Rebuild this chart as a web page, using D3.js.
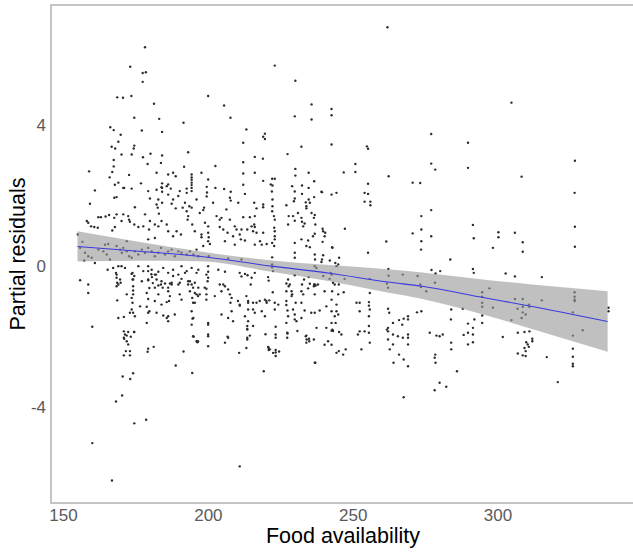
<!DOCTYPE html>
<html>
<head>
<meta charset="utf-8">
<script src="https://cdn.jsdelivr.net/npm/d3@7"></script>
<style>
  html, body { margin: 0; padding: 0; background: #fff; }
  svg { display: block; }
</style>
</head>
<body>
<svg id="chart" width="633" height="554"></svg>
<script>
// ---------------- DATA ----------------
const xTicks = [150, 200, 250, 300];
const yTicks = [-4, 0, 4];
const xLabel = "Food availability";
const yLabel = "Partial residuals";

// smooth fit and its confidence band
const fitX     = [155, 175, 197, 222, 242, 262, 274, 295, 311, 338];
const fitY     = [0.57, 0.44, 0.29, 0.01, -0.19, -0.44, -0.56, -0.88, -1.12, -1.56];
const bandLow  = [0.14, 0.16, 0.15, -0.15, -0.42, -0.74, -0.92, -1.36, -1.75, -2.42];
const bandHigh = [1.00, 0.72, 0.43, 0.17, 0.04, -0.08, -0.17, -0.37, -0.50, -0.70];

// observations [food availability, partial residual], food < 200
const obsLow = [
[178.3,6.22],[173.2,5.67],[177.5,5.49],[178.6,5.51],[177.5,5.24],[168.7,4.8],[170.7,4.79],[173.6,4.84],[181.4,4.62],[174.6,4.22],
[183.2,4.19],[191.6,4.08],[166.3,3.95],[167.5,3.87],[169.9,3.74],[177.2,3.86],[184.2,3.82],[169.1,3.54],[174.6,3.43],[174.4,3.35],
[166.8,3.4],[168,3.35],[170.2,3.18],[173.7,3.18],[177.6,3.1],[180.2,3.2],[184.2,3.15],[193.2,3.24],[183.8,2.94],[179.2,2.91],
[167.5,3.02],[167.5,2.84],[167,2.68],[159,2.7],[172.8,2.6],[182.3,2.66],[188,2.66],[188.9,2.56],[191.8,2.83],[194.4,2.61],
[194.4,2.53],[194.4,2.46],[194.4,2.38],[194.4,2.31],[194.4,2.23],[166.1,2.53],[169.1,2.38],[167.9,2.32],[170.8,2.23],[176.9,2.36],
[184.2,2.36],[186.3,2.33],[184.2,2.23],[185.8,2.28],[186.3,2.61],[188,1.9],[189.8,2.0],[190.3,2.14],[199.7,2.1],
[161,2.16],[159.3,1.78],[167.7,1.95],[168.5,1.97],[171.1,2.23],[173.7,2.21],[179.4,2.14],[182.3,2.18],[184,2.25],[184.2,2.12],
[186.3,2.04],[187.2,2.21],[192.7,2.21],[194.4,2.14],[180,1.93],[182.9,1.9],[182.3,1.76],[182.7,1.67],[183.1,1.5],[184.2,1.81],
[187.5,1.78],[188.9,1.65],[174.8,1.68],[170.8,1.48],[172.5,1.43],[172.8,1.33],[173.1,1.27],[174.6,1.19],[176,1.12],[177.7,1.14],
[158.2,1.29],[158.7,1.24],[159.7,1.14],[160.8,1.12],[162,1.1],[162.2,1.4],[163.1,1.4],[164.7,1.42],[165.9,1.46],[167.7,1.38],
[168.5,1.48],[170.2,1.29],[167.9,1.12],[167,1.02],[178.3,1.48],[180,1.29],[179.7,1.05],[181.7,1.19],[182.9,1.14],[184,1.29],
[185.8,1.19],[186.3,1.0],[188,0.86],[189.2,1.0],[190.7,0.91],[192.7,1.57],[193.2,1.43],[194.6,1.19],[195.5,1.0],[193,1.33],
[192.7,2.09],[192.1,1.81],[191.3,1.67],[193.6,1.71],[194.4,1.67],[196.1,1.9],[197.2,1.52],[198.4,1.6],[199,1.24],
[155.1,0.91],[156.7,0.7],[155.9,0.53],[157.6,0.39],[158.7,0.29],[157.3,0.17],[159.9,0.25],[161,0.1],
[164.5,0.62],[165.6,0.64],[163.9,0.43],[165.1,0.34],[166.2,0.2],[162.2,0.48],
[168.5,0.58],[169.7,0.48],[170.3,0.39],[170.8,0.53],[172,0.43],[172.8,0.29],[173.7,0.25],[174.8,0.43],[176,0.34],[177.2,0.48],
[178.3,0.39],[179.4,0.53],[180.6,0.43],[181.7,0.29],[182.9,0.39],[183.8,0.53],[185.2,0.34],[186.3,0.43],[187.5,0.48],[188.6,0.29],
[189.8,0.43],[190.9,0.39],[192.7,0.34],[193.8,0.43],[195,0.34],[196.1,0.48],[196.7,0.29],[172,0.72],[179.4,0.77],[181.7,0.81],
[165.4,-0.09],[167.3,-0.04],[169.1,0.01],[168.5,-0.23],[169.7,-0.37],[169.1,-0.51],[168.5,-0.56],[170.2,0.01],[171.4,-0.04],[173.7,-0.21],
[174.6,-0.27],[174.2,-0.37],[176,0.01],[177.7,-0.13],[179.4,0.01],[180.6,-0.09],[181.7,-0.23],[182.9,-0.15],[184.6,-0.04],[186.3,-0.18],
[188,-0.09],[189.8,-0.23],[190.9,0.01],[192.7,-0.13],[194.4,-0.04],[196.1,-0.18],[177.2,-0.42],[179.4,-0.37],[184,-0.42],[187.5,-0.46],[193.2,-0.42],
[155.9,-0.39],[158.7,-0.51],[158.7,-0.75],[160.1,-1.71],[168.7,-0.96],[169.1,-1.46],[171,-1.43],[168.3,-0.18],[168.5,-0.32],[168.7,-0.46],[169.9,-0.46],
[172,-0.79],[173.7,-0.89],[174,-1.03],[173.7,-1.22],[174.2,-1.31],[174.8,-1.41],[173.1,-1.31],
[174,-0.18],[174,-0.37],[174.2,-0.56],[174.2,-0.68],[174.2,-0.79],
[176.6,-1.13],[178.9,-1.14],[179.4,-1.31],[179.8,-1.27],[178.9,-1.6],
[179.4,-0.13],[180.5,-0.22],[180.7,-0.3],[179.4,-0.39],[181,-0.47],[179.8,-0.61],[178.9,-0.75],[179.4,-0.92],
[182.1,-0.23],[182.3,-0.37],[182.9,-0.54],[184.4,-0.6],[185.2,-0.48],[186.9,-0.48],[186.3,-0.7],[185.8,-1.01],[184.6,-1.39],[186.3,-1.41],[186.3,-1.55],[186.9,-0.84],
[188,-0.27],[190.3,-0.46],[190.9,-0.35],[192.1,-0.18],[193.8,-0.42],[194.4,-0.51],[194.9,-0.6],[196.1,-0.79],[196.6,-0.84],[197.2,-0.79],
[194.9,-1.03],[194.7,-1.48],[194.9,-1.98],[196.1,-2.12],[196.6,-2.12],
[171,-1.84],[171.4,-1.93],[171,-2.02],[172,-2.12],[172.5,-2.21],[171.7,-2.4],[173.1,-2.4],[173.1,-2.52],[171,-2.52],[174.5,-1.86],
[181.7,-0.6],[182.9,-0.79],[183.8,-0.51],[186.3,-0.6],[187.5,-0.51],[181.7,-0.98],[184,-1.08],[186.6,-0.98],[189.8,-0.51],[190.3,-0.79],
[190.9,-0.94],[193.2,-0.51],[193.8,-0.7],[194.6,-0.89],[195.5,-1.03],[196.7,-0.6],[182.3,-1.31],[185.8,-1.46],[188.6,-1.36],[194.4,-1.27],
[195,-1.46],[194.4,-1.65],[172,-1.96],[173.4,-1.99],[172.5,-1.86],[174.6,-1.86],[171.1,-2.05],
[179.4,-2.33],[181.3,-2.28],[179.2,-2.42],[195.1,-1.99],[191.6,-2.41],[188.9,-2.81],[194.6,-3.02],[170.6,-3.12],[174.2,-3.03],[173.2,-3.19],
[170.4,-3.66],[168.3,-3.83],[178.7,-4.35],[174.6,-4.45],[160.1,-5.01],[166.9,-6.07]
];

// observations, 200 <= food < 250
const obsMid = [
[223.1,5.7],[230.2,5.27],[200.1,4.84],[205.6,4.57],[207.8,4.22],[235.8,4.6],[230,4.26],[235.8,4.17],[242.7,4.47],[242.7,4.29],
[213.3,3.89],[219.7,3.77],[219.1,3.68],[219.7,3.62],[212.2,3.51],[232.3,3.4],[242.7,3.46],[227.5,3.19],[216.2,3.11],[219,3.06],
[212.2,2.96],[202.6,2.85],[230.2,2.77],[230.2,2.58],[197.8,2.66],[212.2,2.64],[216.2,2.66],[234.8,2.66],[236.7,2.42],[200.1,2.47],
[219.1,2.43],[222.2,2.49],[223.1,2.49],[221.7,2.33],[222.3,2.3],[199.6,2.26],[202.6,2.23],[205.6,2.2],[212.2,2.32],[229.1,2.28],
[232.5,2.3],[234.8,2.23],[222.1,2.13],[230,2.13],[233.8,1.82],
[207.9,2.12],[212.8,2.06],[199.6,1.99],[207.6,1.95],[207.9,1.87],[198.7,1.67],[216,1.81],[216.8,1.65],[219.1,1.76],[219.1,1.68],
[222.2,1.57],[227.1,1.74],[227.9,1.43],[230,1.93],[232.5,2.06],[234.8,1.9],[236.7,1.97],[235.2,1.81],[234,1.71],[234,1.65],
[239.2,2.12],[242.7,2.04],[204.7,1.38],[212.2,1.4],[214.5,1.4],[216.2,1.43],
[204.1,1.12],[206.8,0.96],[209.9,1.05],[215.1,1.14],[216.2,1.12],[216,1.19],
[197.8,0.91],[197.8,0.83],[200.1,0.96],[200.3,0.83],[200.1,0.72],[200.7,0.64],[198.4,0.58],
[223.1,1.33],[222.9,1.1],[223.1,1.0],[223.1,0.86],[223.1,0.77],[222.2,0.67],[222.9,0.58],[220.3,0.64],[218.6,0.62],[218,0.72],
[216.2,0.62],[212.8,0.74],[211,0.91],[211.4,0.77],[209.3,0.62],[205.9,0.72],
[227.7,1.19],[230,1.3],[232.3,1.38],[232.5,1.27],[232.9,1.14],[236.9,1.46],[237.1,1.19],[236.9,0.93],[236.3,0.86],[239.8,1.0],
[240.3,0.86],[239.6,0.7],[242.9,0.55],[230,0.67],[230,0.39],[234,0.58],[235.2,0.55],[234.6,0.74],[232.3,0.77],[236.9,0.34],
[239.8,0.32],[242.1,0.17],[200.3,0.29],[207,0.23],[211.6,0.2],[222.2,0.26],[222.2,0.06],[222.2,-0.02],[230,0.25],[236.9,0.01],
[237.5,-0.04],[239.2,0.13],[242.4,-0.18],
[211.6,1.05],[213.6,1.05],[215.6,1.0],[216.8,0.96],[219.1,0.96],[222.3,1.9],[222.3,1.71],[222.8,1.43],[229.7,1.85],[231.1,1.52],
[229.4,1.43],[233.4,1.22],[235.8,1.52],[201.8,1.81],[203,1.43],[204.1,1.33],[206.4,1.62],[207.6,1.33],[209.3,1.14],[205.3,1.05],
[208.7,0.86],[210.5,1.81],[200.1,1.14],
[239.4,2.11],[244.4,2.09],[236.6,1.38],[247.3,1.07],[239.6,1.07],[240.5,0.96],[243,0.53],[245.3,0.25],[237,0.2],[239.4,0.2],
[244,0.1],[244.4,0.01],[246.9,2.67],
[196.7,-0.09],[200.1,0.01],[200.1,-0.15],[200.1,-0.32],[199.9,-0.42],[203.6,-0.09],[205.9,-0.15],[211,-0.18],[212.8,-0.21],[213.7,-0.25],
[216.2,-0.18],[215.1,-0.32],[214.8,-0.51],[220.8,-0.3],[221,-0.4],[222.5,-0.13],[227.7,-0.37],[228.3,-0.51],[227.9,-0.56],[227.1,-0.7],
[228.9,-0.7],[230,-0.25],[233.2,-0.37],[234.8,-0.3],[235.2,-0.49],[232.5,-0.51],[234.6,-0.62],[236.7,-0.51],[239.8,-0.27],[242.7,-0.23],
[243.2,-0.46],[243.8,-0.51],[242.7,-0.94],[242.9,-0.7],[245,0.06],[245.2,-0.51],[245,-0.79],
[195.5,-0.46],[195.5,-0.75],[198.9,-0.6],[199.5,-0.79],[202.4,-0.84],[204.1,-0.51],[205.3,-0.51],[205.9,-0.56],[207,-0.65],[208.2,-0.89],
[210.4,-0.98],[211,-1.08],[213.9,-1.03],[215.6,-1.03],[215.6,-1.22],[217.9,-0.98],[219.7,-0.94],[220.3,-1.03],[218.6,-1.27],[216.2,-1.31],
[212.8,-1.41],[213.9,-1.55],[223.1,-1.03],[224.3,-1.08],[223.1,-1.22],[227.1,-0.98],[227.1,-1.09],[227.5,-1.25],[227.7,-1.41],[230,-1.36],
[230.6,-1.55],[232.3,-1.46],[233.4,-1.25],[235.7,-1.31],[236.9,-0.79],[238.6,-1.25],[240.9,-1.13],[242.7,-1.27],[243.8,-1.41],[242.7,-1.6],
[240.9,-1.74],[243.2,-1.83],[232.3,-0.7],[229.1,-0.79],[230.9,-1.83],
[199.5,-0.23],[199.5,-0.63],[199.5,-0.94],[200.1,-1.6],[200.1,-1.65],[200.1,-1.93],[200.1,-1.98],[200.1,-2.26],
[204.7,-0.7],[207.6,-0.79],[207.8,-1.03],[208.2,-1.27],[208.7,-1.55],[205.9,-2.16],[207,-2.02],[204.7,-1.36],[207,-1.46],
[211.6,-0.28],[211,-1.11],[213.9,-0.98],[213.3,-0.84],[213.9,-1.22],[213.6,-1.69],[213.6,-1.77],[213.6,-2.02],[213.3,-2.31],[215.6,-1.69],
[216.8,-1.03],[220.2,-0.98],[219.7,-1.41],[221.2,-0.96],[222.4,-0.73],[223.4,-1.71],[223.4,-1.93],[223.4,-2.02],[220.8,-2.28],[221.4,-2.35],
[222.5,-2.45],[223.4,-2.44],[224.6,-2.41],[219.3,-2.97],
[227.1,-0.48],[228.9,-0.84],[229.4,-1.22],[230,-1.5],[227.1,-1.6],[227.4,-1.88],[227.4,-2.02],[230.3,-1.03],[232.3,-1.03],[233.8,-1.98],
[234.1,-2.07],[235,-2.12],[232.9,-0.79],[236.9,-0.51],[237.2,-0.54],
[196.4,-2.15],[206.8,-1.99],[213.6,-1.79],[214.5,-1.96],[213.6,-2.07],[210.8,-2.45],[219.9,-1.92],[227.5,-1.9],[221,-2.31],[221,-2.37],
[223.4,-2.37],[223.4,-2.54],[234,-1.96],[234.9,-2.05],[234,-2.16],[237.1,-2.73],[240.3,-2.22],[242.7,-2.22],[242.7,-1.82],[244.4,-2.45],
[245.2,-2.4],[211,-5.67],
[236.6,-0.56],[238,-0.51],[242,-0.35],[247.2,-0.35],[240.3,-0.7],[246.9,-0.73],[236.9,-2.73],[236.9,-1.31],[236.6,-2.07],[237.5,-1.74],
[244.4,-1.08],[244.4,-1.27],[245,-1.36],[244.1,-1.6],[245.3,-1.86],[246.1,-1.93],[243,-1.79],[241.5,-2.12],[246.7,-2.5],[247.6,-2.35]
];

// observations, food >= 250
const obsHigh = [
[262,6.79],[304.8,4.65],[277.1,3.76],[254.9,3.41],[255.3,3.34],[289.8,3.51],[250.9,2.91],[250.9,2.68],[277.1,2.92],[278.5,2.75],
[289.8,2.8],[326.7,3.0],[262.4,2.56],[270.7,2.38],[273.3,2.37],[308.3,2.55],[255.3,2.35],[254.1,2.09],[255.3,2.06],[254.1,1.84],
[256.1,1.84],[256.1,1.74],[326.6,2.09],[277.1,1.6],[273.7,1.43],[291.5,1.18],[270.7,0.94],[273.7,1.05],[277.1,0.86],[300.3,0.97],
[300.3,0.83],[306,0.96],[291.8,0.8],[326.7,1.13],[326.7,0.56],[308.7,0.69],[308.7,0.42],[298.4,0.53],[261.6,0.71],[273.6,0.48],
[255.3,0.39],[283.7,0.2],[262.3,-0.07],[267.3,-0.23],[262.4,-0.26],[277.2,-0.1],[278.6,-0.2],[280.2,-0.13],[291.5,-0.07],[302.8,-0.2],
[306,-0.28],[315.3,-0.3],[273.7,0.72],
[261.8,-0.48],[262.2,-0.6],[272.4,-0.27],[273.3,-0.51],[273.6,-0.58],[278.4,-0.46],[255.9,-0.35],[255.9,-0.75],[294.7,-0.73],[294.7,-0.86],
[294.7,-1.03],[294.7,-1.14],[297.2,-0.62],
[306,-0.92],[308.7,-0.92],[310.8,-1.08],[311,-1.14],[308.7,-1.14],[308.7,-1.3],[309.7,-1.36],[308.3,-1.46],[306.9,-1.2],[304.8,-1.52],[315.3,-0.96],
[326.6,-0.73],[326.6,-0.86],[326.6,-0.94],[326.6,-0.98],[326,-1.3],[338.3,-1.17],[338.3,-1.27],[329.4,-1.81],[326,-1.96],[326,-2.33],
[326,-2.56],[326,-2.76],[326,-2.83],[317,-2.57],[320.8,-3.28],[301.8,-2.0],
[307,-1.88],[309.3,-1.86],[311,-1.84],[312,-2.05],[312,-2.12],[309.9,-2.15],[310.4,-2.21],[309.3,-2.31],[310.8,-2.28],[309.7,-2.4],
[307,-2.47],[308.7,-2.52],[309.7,-2.54],
[294.7,-1.39],[294.7,-1.6],[291.5,-1.74],[291.5,-1.93],[291.5,-2.15],[289.8,-1.88],[289.8,-2.21],[288.3,-1.94],[286,-2.97],
[284,-1.22],[283.9,-1.5],[284,-2.16],[284,-2.35],[276.6,-1.88],[278.9,-1.96],[280,-1.98],[281.1,-1.93],
[278.5,-2.5],[278.3,-2.59],[278.6,-2.73],[278.3,-3.51],[280,-3.3],[282.3,-3.41],[267.6,-3.71],
[272.2,-1.3],[273.7,-1.27],[269.1,-1.41],[269.1,-1.5],[267.6,-1.48],[266,-1.52],[263.9,-1.6],[267.1,-1.65],
[262.2,-1.2],[262.6,-1.31],[262.2,-1.74],[261.8,-1.79],[262.2,-1.84],[263.9,-1.93],[262.2,-2.07],[263.9,-2.21],[265.6,-1.98],[267.3,-2.02],
[269.1,-1.93],[269.1,-2.02],[269.1,-2.21],[262.8,-2.35],[264.1,-2.73],[266,-2.5],[267.6,-2.64],[269.1,-2.83],
[255.6,-1.01],[255.6,-1.11],[255.9,-1.22],[255.6,-1.41],[255.6,-1.69],[255.6,-1.88],[255.9,-2.16],[254.1,-1.84],[252.4,-1.84],[253,-2.35],
[251.8,-1.93],[252.4,-1.27],[251.3,-1.03],[252.4,-1.03],
[275.4,-0.7],[288,-1.2],[289.8,-1.62],[292,-1.5],[298.4,-1.17],[291.8,-0.18]
];

// ---------------- CHART ----------------
const W = 633, H = 554;
const panel = { left: 51, right: 635, top: 5, bottom: 503 };

const x = d3.scaleLinear().domain([145.85, 347.45]).range([panel.left, panel.right]);
const y = d3.scaleLinear().domain([-6.71, 7.42]).range([panel.bottom, panel.top]);

const svg = d3.select("#chart");
const font = "'Liberation Sans', Arial, Helvetica, sans-serif";

const points = [].concat(obsLow, obsMid, obsHigh);

// points
svg.append("g")
  .selectAll("circle")
  .data(points)
  .join("circle")
  .attr("cx", d => x(d[0]))
  .attr("cy", d => y(d[1]))
  .attr("r", 1.2)
  .attr("fill", "#2b2b2b");

// confidence band
const band = fitX.map((v, i) => ({ x: v, lo: bandLow[i], hi: bandHigh[i], f: fitY[i] }));
svg.append("path")
  .datum(band)
  .attr("d", d3.area().curve(d3.curveMonotoneX)
    .x(d => x(d.x)).y0(d => y(d.lo)).y1(d => y(d.hi)))
  .attr("fill", "#999999")
  .attr("fill-opacity", 0.62);

// fitted line
svg.append("path")
  .datum(band)
  .attr("d", d3.line().curve(d3.curveMonotoneX).x(d => x(d.x)).y(d => y(d.f)))
  .attr("fill", "none")
  .attr("stroke", "#3a3ae0")
  .attr("stroke-width", 1.1);

// panel border (top, left, bottom)
svg.append("path")
  .attr("d", `M${panel.right},${panel.top}H${panel.left}V${panel.bottom}H${panel.right}`)
  .attr("fill", "none")
  .attr("stroke", "#b3b3b3")
  .attr("stroke-width", 1.5);

// axes
const fmt = d => String(d);
const xAxis = svg.append("g")
  .attr("transform", `translate(0,${panel.bottom})`)
  .call(d3.axisBottom(x).tickValues(xTicks).tickSize(0).tickPadding(6).tickFormat(fmt));
const yAxis = svg.append("g")
  .attr("transform", `translate(${panel.left},0)`)
  .call(d3.axisLeft(y).tickValues(yTicks).tickSize(0).tickPadding(5).tickFormat(fmt));
[xAxis, yAxis].forEach(g => {
  g.select(".domain").remove();
  g.selectAll("text")
    .attr("font-family", font)
    .attr("font-size", 17)
    .attr("fill", "#5a5a5a");
});

// axis titles
svg.append("text")
  .attr("x", (panel.left + panel.right) / 2)
  .attr("y", 543)
  .attr("text-anchor", "middle")
  .attr("font-family", font)
  .attr("font-size", 21.5)
  .attr("fill", "#000")
  .text(xLabel);

svg.append("text")
  .attr("transform", `translate(25,${(panel.top + panel.bottom) / 2}) rotate(-90)`)
  .attr("text-anchor", "middle")
  .attr("font-family", font)
  .attr("font-size", 21.5)
  .attr("fill", "#000")
  .text(yLabel);
</script>
</body>
</html>
